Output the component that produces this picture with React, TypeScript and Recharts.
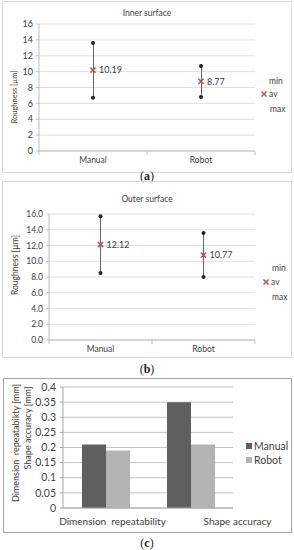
import type { CSSProperties, ReactNode } from "react";
import {
  Bar,
  BarChart,
  CartesianGrid,
  ComposedChart,
  LabelList,
  Line,
  XAxis,
  YAxis,
  usePlotArea,
} from "recharts";

const SURF_CATS = ["Manual", "Robot"];
const INNER_MIN = [6.7, 6.8];
const INNER_AV = [10.19, 8.77];
const INNER_MAX = [13.6, 10.7];
const OUTER_MIN = [8.5, 8.0];
const OUTER_AV = [12.12, 10.77];
const OUTER_MAX = [15.7, 13.6];
const ROUGH_TICKS = [0, 2, 4, 6, 8, 10, 12, 14, 16];

const ACC_CATS = ["Dimension  repeatability", "Shape accuracy"];
const MANUAL_ACC = [0.21, 0.35];
const ROBOT_ACC = [0.19, 0.21];
const ACC_TICKS = [0, 0.05, 0.1, 0.15, 0.2, 0.25, 0.3, 0.35, 0.4];

const FONT = "Lato, 'Noto Sans', sans-serif";
const INK = "#404040";
const RED = "#c0504d";

/** absolutely placed text; anchor is the point the text is centred on (or starts at) */
function Txt({
  x,
  y,
  size,
  start = false,
  rotate = false,
  style,
  children,
}: {
  x: number;
  y: number;
  size: number;
  start?: boolean;
  rotate?: boolean;
  style?: CSSProperties;
  children: ReactNode;
}) {
  const tf = rotate
    ? "translate(-50%,-50%) rotate(-90deg)"
    : start
      ? "translate(0,-50%)"
      : "translate(-50%,-50%)";
  return (
    <div
      style={{
        position: "absolute",
        left: x,
        top: y,
        transform: tf,
        whiteSpace: "pre",
        lineHeight: 1,
        fontSize: size,
        fontFamily: FONT,
        color: INK,
        ...style,
      }}
    >
      {children}
    </div>
  );
}

function Box({ x, y, w, h, color }: { x: number; y: number; w: number; h: number; color: string }) {
  return (
    <div
      style={{
        position: "absolute",
        left: x,
        top: y,
        width: w,
        height: h,
        boxSizing: "border-box",
        border: `1px solid ${color}`,
      }}
    />
  );
}

function Caption({ y, letter }: { y: number; letter: string }) {
  return (
    <Txt x={147} y={y} size={12} style={{ fontFamily: "'Liberation Serif', serif", color: "#222" }}>
      (<b>{letter}</b>)
    </Txt>
  );
}

/** Excel puts category tick marks between the categories, not under them */
function CatBoundaries({ n, color }: { n: number; color: string }) {
  const pa = usePlotArea();
  if (!pa) return null;
  const step = pa.width / n;
  const yb = pa.y + pa.height;
  return (
    <g>
      {Array.from({ length: n + 1 }, (_, i) => (
        <line key={i} x1={pa.x + i * step} x2={pa.x + i * step} y1={yb} y2={yb + 4} stroke={color} />
      ))}
    </g>
  );
}

function AvCross(props: { cx?: number; cy?: number }) {
  const { cx, cy } = props;
  if (cx == null || cy == null) return <g />;
  const s = 2.6;
  return (
    <path
      d={`M${cx - s},${cy - s}L${cx + s},${cy + s}M${cx - s},${cy + s}L${cx + s},${cy - s}`}
      stroke={RED}
      strokeWidth={1.6}
    />
  );
}

function MiniCross({ x, y }: { x: number; y: number }) {
  return (
    <svg style={{ position: "absolute", left: x - 3, top: y - 3 }} width={6} height={6}>
      <path d="M0.5,0.5L5.5,5.5M0.5,5.5L5.5,0.5" stroke={RED} strokeWidth={1.5} />
    </svg>
  );
}

interface SurfProps {
  left: number;
  top: number;
  width: number;
  height: number;
  marginTop: number;
  marginRight: number;
  yWidth: number;
  xHeight: number;
  mins: number[];
  avs: number[];
  maxs: number[];
  decimals: number;
  tickSize: number;
}

function SurfaceChart(p: SurfProps) {
  const data = SURF_CATS.map((cat, i) => ({
    cat,
    min: p.mins[i],
    av: p.avs[i],
    max: p.maxs[i],
    range: [p.mins[i], p.maxs[i]],
  }));
  const tickStyle = { fill: INK, fontSize: p.tickSize, fontFamily: FONT };
  return (
    <div style={{ position: "absolute", left: p.left, top: p.top }}>
      <ComposedChart
        width={p.width}
        height={p.height}
        data={data}
        margin={{ top: p.marginTop, right: p.marginRight, bottom: 0, left: 0 }}
      >
        <CartesianGrid vertical={false} stroke="#e0e0e0" />
        <XAxis
          dataKey="cat"
          height={p.xHeight}
          tickLine={false}
          axisLine={{ stroke: "#bfbfbf" }}
          tick={{ ...tickStyle, fontSize: 8.5 }}
          tickMargin={0}
        />
        <YAxis
          width={p.yWidth}
          domain={[0, 16]}
          ticks={ROUGH_TICKS}
          interval={0}
          tickFormatter={(v) => Number(v).toFixed(p.decimals)}
          tick={tickStyle}
          tickLine={{ stroke: "#bfbfbf" }}
          tickSize={3}
          tickMargin={3}
          axisLine={{ stroke: "#bfbfbf" }}
        />
        <CatBoundaries n={SURF_CATS.length} color="#bfbfbf" />
        <Bar dataKey="range" barSize={1} fill="#666" isAnimationActive={false} />
        <Line
          dataKey="min"
          stroke="none"
          dot={{ r: 2, fill: "#222", stroke: "none" }}
          activeDot={false}
          isAnimationActive={false}
        />
        <Line
          dataKey="max"
          stroke="none"
          dot={{ r: 2, fill: "#222", stroke: "none" }}
          activeDot={false}
          isAnimationActive={false}
        />
        <Line
          dataKey="av"
          stroke="none"
          dot={(d: { cx?: number; cy?: number; key?: string }) => <AvCross key={d.key} cx={d.cx} cy={d.cy} />}
          activeDot={false}
          isAnimationActive={false}
        >
          <LabelList
            dataKey="av"
            position="right"
            offset={6}
            formatter={(v: unknown) => Number(v).toFixed(2)}
            style={{ fill: INK, fontSize: 9, fontFamily: FONT }}
          />
        </Line>
      </ComposedChart>
    </div>
  );
}

const accData = ACC_CATS.map((cat, i) => ({ cat, manual: MANUAL_ACC[i], robot: ROBOT_ACC[i] }));
const ACC_LABEL_SHIFT = [7, 47];

function AccTick(props: { x?: number; y?: number; index?: number; payload?: { value: string } }) {
  const { x = 0, y = 0, index = 0, payload } = props;
  return (
    <text
      x={x + ACC_LABEL_SHIFT[index]}
      y={y + 9}
      textAnchor="middle"
      fill={INK}
      fontSize={10}
      fontFamily={FONT}
      style={{ whiteSpace: "pre" }}
    >
      {payload?.value}
    </text>
  );
}

export default function App() {
  return (
    <div
      style={{
        position: "absolute",
        left: 0,
        top: 0,
        width: 294,
        height: 550,
        background: "#fff",
        overflow: "hidden",
      }}
    >
      {/* (a) inner surface */}
      <Box x={2} y={1} w={290} h={172} color="#d9d9d9" />
      <SurfaceChart
        left={2}
        top={1}
        width={290}
        height={172}
        marginTop={23}
        marginRight={37}
        yWidth={37}
        xHeight={22}
        mins={INNER_MIN}
        avs={INNER_AV}
        maxs={INNER_MAX}
        decimals={0}
        tickSize={9}
      />
      <Txt x={147} y={13} size={8.5}>Inner surface</Txt>
      <Txt x={15} y={97} size={7.5} rotate>Roughness [µm]</Txt>
      <Txt x={269} y={81} size={8.5} start>min</Txt>
      <MiniCross x={264} y={94} />
      <Txt x={269} y={94} size={8.5} start>av</Txt>
      <Txt x={270} y={109} size={8.5} start>max</Txt>
      <Caption y={176} letter="a" />

      {/* (b) outer surface */}
      <Box x={2} y={181} w={290} h={177} color="#d9d9d9" />
      <SurfaceChart
        left={2}
        top={181}
        width={290}
        height={177}
        marginTop={33}
        marginRight={37}
        yWidth={47}
        xHeight={18}
        mins={OUTER_MIN}
        avs={OUTER_AV}
        maxs={OUTER_MAX}
        decimals={1}
        tickSize={8.5}
      />
      <Txt x={147} y={199} size={8.5}>Outer surface</Txt>
      <Txt x={15} y={265} size={8.5} rotate>Roughness [µm]</Txt>
      <Txt x={272} y={268} size={8.5} start>min</Txt>
      <MiniCross x={266} y={282} />
      <Txt x={271} y={282} size={8.5} start>av</Txt>
      <Txt x={272} y={297} size={8.5} start>max</Txt>
      <Caption y={369} letter="b" />

      {/* (c) accuracy bars */}
      <Box x={3} y={378} w={289} h={155} color="#a6a6a6" />
      <div style={{ position: "absolute", left: 3, top: 378 }}>
        <BarChart
          width={289}
          height={155}
          data={accData}
          margin={{ top: 9, right: 59, bottom: 0, left: 0 }}
          barGap={0}
        >
          <CartesianGrid vertical={false} stroke="#c4c4c4" />
          <XAxis
            dataKey="cat"
            height={25}
            tickLine={false}
            axisLine={{ stroke: "#a6a6a6" }}
            tick={<AccTick />}
            interval={0}
          />
          <YAxis
            width={60}
            domain={[0, 0.4]}
            ticks={ACC_TICKS}
            interval={0}
            tickFormatter={(v) => String(Number(Number(v).toFixed(2)))}
            tick={{ fill: INK, fontSize: 10.5, fontFamily: FONT }}
            tickLine={{ stroke: "#a6a6a6" }}
            tickSize={3}
            tickMargin={4}
            axisLine={{ stroke: "#a6a6a6" }}
          />
          <Bar dataKey="manual" barSize={24} fill="#5f5f5f" isAnimationActive={false} />
          <Bar dataKey="robot" barSize={24} fill="#b3b3b3" isAnimationActive={false} />
        </BarChart>
      </div>
      <Txt x={15} y={443} size={9} rotate>Dimension  repeatabikty [mm]</Txt>
      <Txt x={27} y={428} size={9} rotate>Shape accuracy [mm]</Txt>
      <div style={{ position: "absolute", left: 246, top: 443, width: 6, height: 6, background: "#5f5f5f" }} />
      <Txt x={254} y={446} size={10.5} start>Manual</Txt>
      <div style={{ position: "absolute", left: 246, top: 457, width: 6, height: 6, background: "#b3b3b3" }} />
      <Txt x={254} y={460} size={10.5} start>Robot</Txt>
      <Caption y={543} letter="c" />
    </div>
  );
}
